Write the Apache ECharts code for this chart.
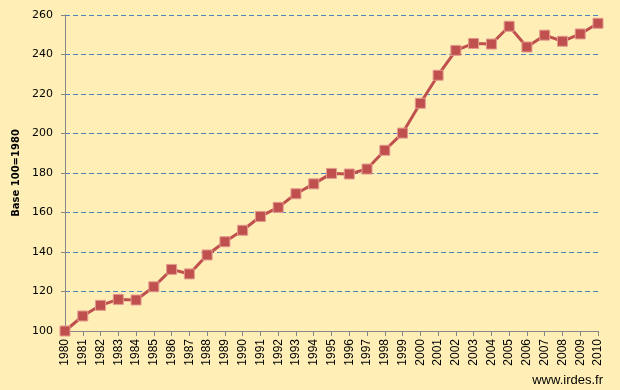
<!DOCTYPE html>
<html><head><meta charset="utf-8">
<script src="https://cdn.jsdelivr.net/npm/echarts@6/dist/echarts.min.js"></script>
<style>html,body{margin:0;padding:0;background:#FFEFB7}#c{width:620px;height:390px}</style>
</head><body><div id="c"></div>
<script>
var years = ['1980','1981','1982','1983','1984','1985','1986','1987','1988','1989','1990','1991','1992','1993','1994','1995','1996','1997','1998','1999','2000','2001','2002','2003','2004','2005','2006','2007','2008','2009','2010'];
var values = [100,107.6,113,116,115.7,122.4,131.2,128.9,138.5,145.2,151,158,162.6,169.5,174.5,179.8,179.5,182,191.5,200.2,215.3,229.5,242.1,245.6,245.3,254.3,243.8,249.8,246.7,250.4,255.8];
var yTicks = {min:100, max:260, interval:20};
var yName = 'Base 100=1980';
var credit = 'www.irdes.fr';

var chart = echarts.init(document.getElementById('c'), null, {renderer:'canvas'});
chart.setOption({
  backgroundColor:'#FFEFB7',
  animation:false,
  grid:{left:65, right:22, top:15, bottom:59, containLabel:false},
  graphic:[{type:'text', right:17, bottom:3, style:{text:credit, font:'13px "Liberation Sans", Arial', fill:'#000'}}],
  xAxis:{type:'category', data:years, boundaryGap:false,
    axisLine:{lineStyle:{color:'#868686', width:1}},
    axisTick:{show:true, length:5, interval:0, lineStyle:{color:'#868686'}},
    axisLabel:{rotate:90, interval:0, color:'#000', fontSize:12, fontFamily:'"Liberation Sans", Arial', margin:8}},
  yAxis:{type:'value', min:yTicks.min, max:yTicks.max, interval:yTicks.interval,
    name:yName, nameLocation:'middle', nameGap:40, nameRotate:90,
    nameTextStyle:{fontWeight:'bold', fontSize:10, fontFamily:'"DejaVu Sans"', color:'#000'},
    axisLine:{show:true, lineStyle:{color:'#868686', width:1}},
    axisTick:{show:true, length:4, lineStyle:{color:'#868686'}},
    axisLabel:{color:'#000', fontSize:11, fontFamily:'"DejaVu Sans", Tahoma', margin:12},
    splitLine:{show:true, lineStyle:{color:'#4F81BD', type:[5,3], width:1}}},
  series:[{type:'line', data:values, symbol:'rect', symbolSize:10,
    lineStyle:{color:'#C0504D', width:3},
    itemStyle:{color:'#C0504D', borderColor:'#E39A8E', borderWidth:1}}]
});
</script></body></html>
